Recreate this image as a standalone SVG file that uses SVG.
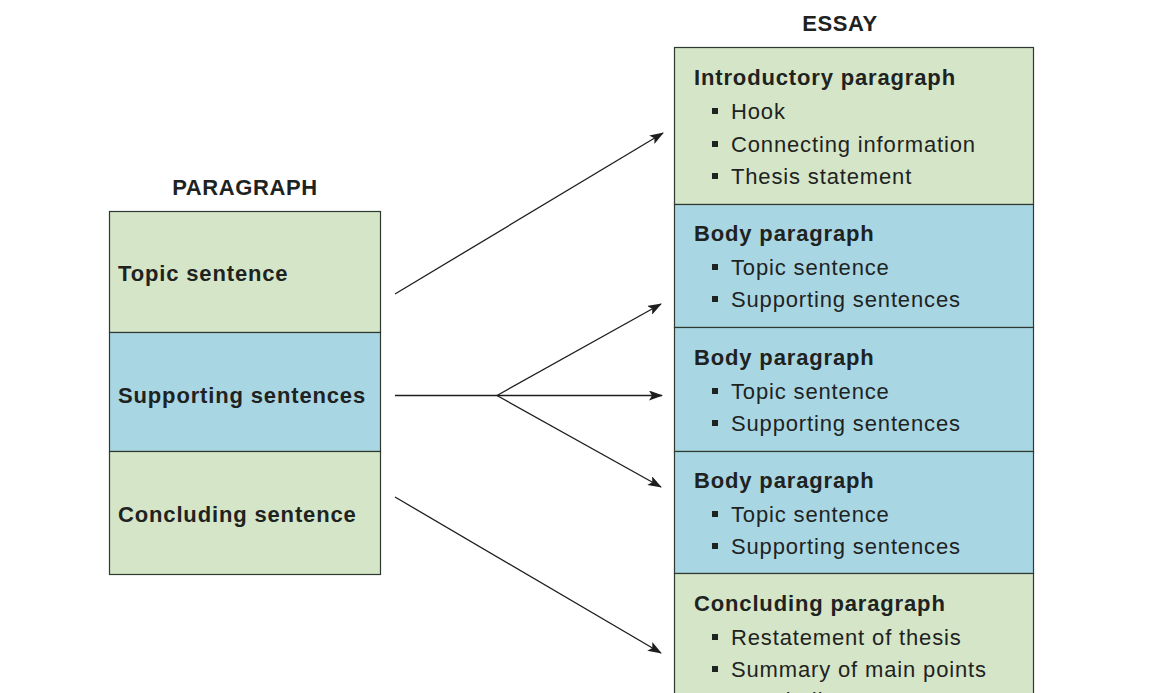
<svg xmlns="http://www.w3.org/2000/svg" width="1150" height="693" viewBox="0 0 1150 693">
<style>
.g{fill:#d5e5c8;stroke:#2e3a30;stroke-width:1.2}
.b{fill:#a9d6e3;stroke:#2e3a30;stroke-width:1.2}
.t{font-family:"Liberation Sans",Arial,sans-serif;fill:#1e231f}
.h{font-size:22px;font-weight:bold;letter-spacing:0.6px}
.l{font-size:22px;font-weight:bold;letter-spacing:0.85px}
.i{font-size:22px;letter-spacing:0.85px}
.q{fill:#1e231f}
.c{stroke:#1e1e1e;stroke-width:1.3;fill:none}
</style>
<defs>
<marker id="ah" markerWidth="14" markerHeight="10" refX="13" refY="5" orient="auto" markerUnits="userSpaceOnUse">
<path d="M0,0 L14,5 L0,10 L3,5 Z" fill="#1e1e1e"/>
</marker>
</defs>
<rect width="1150" height="693" fill="#fff"/>
<g id="paragraph">
<text class="t h" x="245" y="195" text-anchor="middle">PARAGRAPH</text>
<g id="p-topic"><rect class="g" x="109.5" y="211.5" width="271" height="121"/><text class="t l" x="118" y="281">Topic sentence</text></g>
<g id="p-supporting"><rect class="b" x="109.5" y="332.5" width="271" height="119"/><text class="t l" x="118" y="403">Supporting sentences</text></g>
<g id="p-concluding"><rect class="g" x="109.5" y="451.5" width="271" height="123"/><text class="t l" x="118" y="522">Concluding sentence</text></g>
</g>
<g id="essay">
<text class="t h" x="840" y="31" text-anchor="middle">ESSAY</text>
<g id="e-intro"><rect class="g" x="674.5" y="47.5" width="359" height="157"/>
<text class="t l" x="694" y="85">Introductory paragraph</text>
<rect class="q" x="712" y="108" width="6" height="6"/><text class="t i" x="731" y="119">Hook</text>
<rect class="q" x="712" y="141" width="6" height="6"/><text class="t i" x="731" y="152">Connecting information</text>
<rect class="q" x="712" y="173" width="6" height="6"/><text class="t i" x="731" y="184">Thesis statement</text></g>
<g id="e-body1"><rect class="b" x="674.5" y="204.5" width="359" height="123"/>
<text class="t l" x="694" y="241">Body paragraph</text>
<rect class="q" x="712" y="264" width="6" height="6"/><text class="t i" x="731" y="275">Topic sentence</text>
<rect class="q" x="712" y="296" width="6" height="6"/><text class="t i" x="731" y="307">Supporting sentences</text></g>
<g id="e-body2"><rect class="b" x="674.5" y="327.5" width="359" height="124"/>
<text class="t l" x="694" y="365">Body paragraph</text>
<rect class="q" x="712" y="388" width="6" height="6"/><text class="t i" x="731" y="399">Topic sentence</text>
<rect class="q" x="712" y="420" width="6" height="6"/><text class="t i" x="731" y="431">Supporting sentences</text></g>
<g id="e-body3"><rect class="b" x="674.5" y="451.5" width="359" height="122"/>
<text class="t l" x="694" y="488">Body paragraph</text>
<rect class="q" x="712" y="511" width="6" height="6"/><text class="t i" x="731" y="522">Topic sentence</text>
<rect class="q" x="712" y="543" width="6" height="6"/><text class="t i" x="731" y="554">Supporting sentences</text></g>
<g id="e-concl"><rect class="g" x="674.5" y="573.5" width="359" height="140"/>
<text class="t l" x="694" y="611">Concluding paragraph</text>
<rect class="q" x="712" y="634" width="6" height="6"/><text class="t i" x="731" y="645">Restatement of thesis</text>
<rect class="q" x="712" y="666" width="6" height="6"/><text class="t i" x="731" y="677">Summary of main points</text>
<rect class="q" x="712" y="698" width="6" height="6"/><text class="t i" x="731" y="708">Concluding statement</text></g>
</g>
<g id="connectors">
<line class="c" x1="395" y1="294" x2="663" y2="133" marker-end="url(#ah)"/>
<line class="c" x1="395" y1="395.5" x2="497" y2="395.5"/>
<line class="c" x1="497" y1="395.5" x2="661" y2="304" marker-end="url(#ah)"/>
<line class="c" x1="497" y1="395.5" x2="662" y2="395.5" marker-end="url(#ah)"/>
<line class="c" x1="497" y1="395.5" x2="661" y2="487" marker-end="url(#ah)"/>
<line class="c" x1="395" y1="497" x2="661" y2="653" marker-end="url(#ah)"/>
</g>
</svg>
